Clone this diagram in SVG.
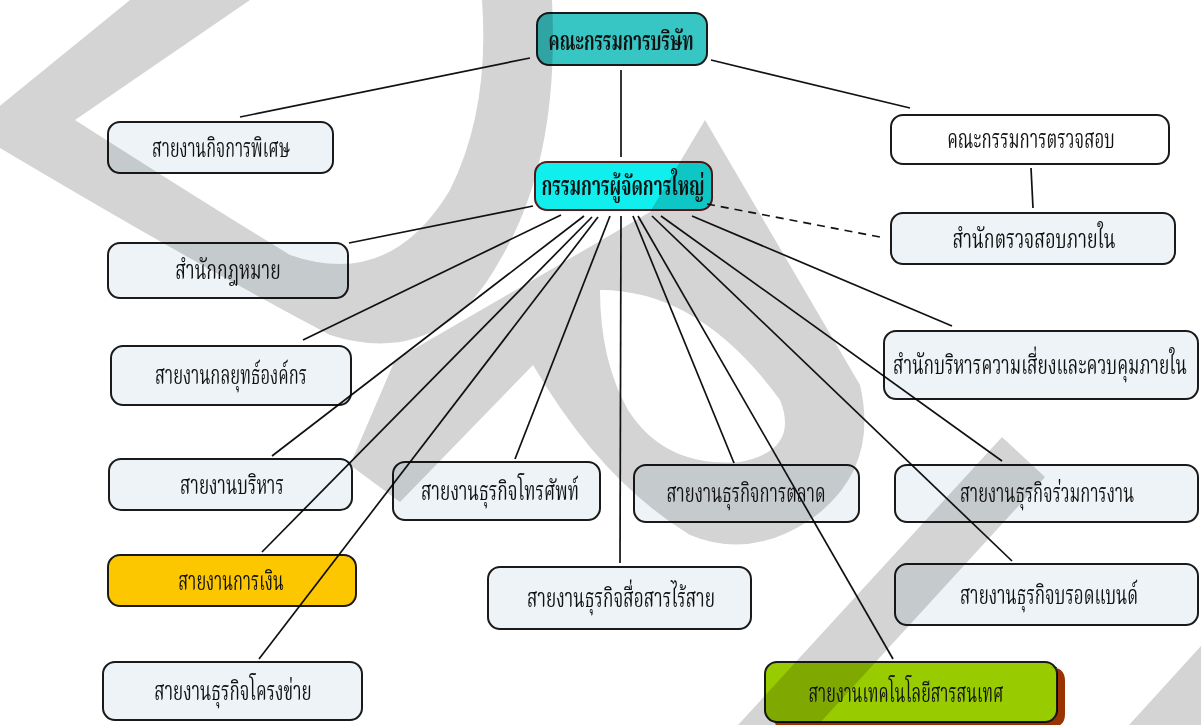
<svg xmlns="http://www.w3.org/2000/svg" width="1201" height="725" viewBox="0 0 1201 725">
<style>
.box{fill:#edf3f6;stroke:#1a1a1a;stroke-width:2}
rect{mix-blend-mode:multiply}
.t{font-family:"Angsana New","Norasi","Kinnari","Noto Serif Thai","Noto Sans Thai","Loma","Garuda",serif;font-size:26px;fill:#111;text-anchor:middle}
.b{font-weight:bold}
.c line{stroke:#111;stroke-width:1.7}
</style>
<g id="watermark" fill="#d4d4d4">
<path fill-rule="evenodd" d="M130,0 L-30,130 Q170,250 330,335 Q440,370 500,260 Q560,160 552,0 Z M250,0 L75,120 Q200,200 290,255 Q390,290 450,190 Q490,110 482,0 Z"/>
<path fill-rule="evenodd" d="M705,120 L860,385 Q880,470 810,520 Q750,560 690,535 Q600,480 533,365 L400,502 L350,465 L395,360 L650,212 Z M600,290 Q700,290 780,400 Q800,450 740,462 Q665,468 628,410 Q600,360 600,290 Z"/>
<path d="M738,725 L1002,437 L1045,477 L818,725 Z"/>
<path d="M1129,725 L1201,646 L1201,725 Z"/>
</g>
<g class="c" id="connectors">
<line x1="530" y1="58" x2="240" y2="117"/>
<line x1="711" y1="60" x2="910" y2="108"/>
<line x1="621" y1="70" x2="621" y2="157"/>
<line x1="1031" y1="168" x2="1033" y2="208"/>
<line x1="707" y1="204" x2="885" y2="238" stroke-dasharray="8,6"/>
<line x1="533" y1="206" x2="349" y2="243"/>
<line x1="561" y1="215" x2="303" y2="340"/>
<line x1="584" y1="216" x2="272" y2="456"/>
<line x1="592" y1="217" x2="262" y2="552"/>
<line x1="598" y1="217" x2="259" y2="659"/>
<line x1="610" y1="216" x2="515" y2="459"/>
<line x1="621" y1="216" x2="620" y2="563"/>
<line x1="633" y1="216" x2="734" y2="463"/>
<line x1="638" y1="216" x2="893" y2="659"/>
<line x1="652" y1="216" x2="1012" y2="561"/>
<line x1="661" y1="216" x2="1002" y2="461"/>
<line x1="692" y1="216" x2="952" y2="326"/>
</g>
<g id="n-board"><rect x="537" y="13" width="170" height="52" rx="12" fill="#38c6c4" stroke="#1a1a1a" stroke-width="2"/><text class="t b" transform="translate(621,50) scale(0.65,1)" textLength="223" lengthAdjust="spacingAndGlyphs">คณะกรรมการบริษัท</text></g>
<g id="n-special"><rect class="box" x="108" y="122" width="225" height="51" rx="12"/><text class="t" transform="translate(221,157) scale(0.65,1)" textLength="212" lengthAdjust="spacingAndGlyphs">สายงานกิจการพิเศษ</text></g>
<g id="n-auditcom"><rect x="891" y="115" width="278" height="49" rx="12" fill="#fff" stroke="#1a1a1a" stroke-width="2"/><text class="t" transform="translate(1031,148) scale(0.65,1)" textLength="258" lengthAdjust="spacingAndGlyphs">คณะกรรมการตรวจสอบ</text></g>
<g id="n-gm"><rect x="535" y="162" width="177" height="48" rx="12" fill="#10eeee" stroke="#5a1a1a" stroke-width="2"/><text class="t b" transform="translate(623,195) scale(0.65,1)" textLength="251" lengthAdjust="spacingAndGlyphs">กรรมการผู้จัดการใหญ่</text></g>
<g id="n-legal"><rect class="box" x="108" y="243" width="240" height="55" rx="12"/><text class="t" transform="translate(228,279) scale(0.65,1)" textLength="162" lengthAdjust="spacingAndGlyphs">สำนักกฎหมาย</text></g>
<g id="n-internal"><rect class="box" x="891" y="213" width="284" height="51" rx="12"/><text class="t" transform="translate(1034,248) scale(0.65,1)" textLength="251" lengthAdjust="spacingAndGlyphs">สำนักตรวจสอบภายใน</text></g>
<g id="n-strategy"><rect class="box" x="111" y="346" width="240" height="59" rx="12"/><text class="t" transform="translate(231,384) scale(0.65,1)" textLength="234" lengthAdjust="spacingAndGlyphs">สายงานกลยุทธ์องค์กร</text></g>
<g id="n-risk"><rect class="box" x="884" y="331" width="314" height="68" rx="12"/><text class="t" transform="translate(1040,374) scale(0.65,1)" textLength="452" lengthAdjust="spacingAndGlyphs">สำนักบริหารความเสี่ยงและควบคุมภายใน</text></g>
<g id="n-admin"><rect class="box" x="109" y="459" width="243" height="51" rx="12"/><text class="t" transform="translate(232,494) scale(0.65,1)" textLength="160" lengthAdjust="spacingAndGlyphs">สายงานบริหาร</text></g>
<g id="n-phone"><rect class="box" x="393" y="462" width="207" height="58" rx="12"/><text class="t" transform="translate(500,500) scale(0.65,1)" textLength="243" lengthAdjust="spacingAndGlyphs">สายงานธุรกิจโทรศัพท์</text></g>
<g id="n-marketing"><rect class="box" x="634" y="465" width="225" height="57" rx="12"/><text class="t" transform="translate(746,502) scale(0.65,1)" textLength="245" lengthAdjust="spacingAndGlyphs">สายงานธุรกิจการตลาด</text></g>
<g id="n-joint"><rect class="box" x="895" y="465" width="303" height="57" rx="12"/><text class="t" transform="translate(1047,502) scale(0.65,1)" textLength="268" lengthAdjust="spacingAndGlyphs">สายงานธุรกิจร่วมการงาน</text></g>
<g id="n-finance"><rect x="108" y="555" width="248" height="51" rx="12" fill="#fdc700" stroke="#1a1a1a" stroke-width="2"/><text class="t" transform="translate(231,590) scale(0.65,1)" textLength="162" lengthAdjust="spacingAndGlyphs">สายงานการเงิน</text></g>
<g id="n-wireless"><rect class="box" x="488" y="567" width="263" height="62" rx="12"/><text class="t" transform="translate(621,607) scale(0.65,1)" textLength="289" lengthAdjust="spacingAndGlyphs">สายงานธุรกิจสื่อสารไร้สาย</text></g>
<g id="n-broadband"><rect class="box" x="895" y="564" width="303" height="61" rx="12"/><text class="t" transform="translate(1049,604) scale(0.65,1)" textLength="274" lengthAdjust="spacingAndGlyphs">สายงานธุรกิจบรอดแบนด์</text></g>
<g id="n-network"><rect class="box" x="103" y="662" width="259" height="58" rx="12"/><text class="t" transform="translate(233,700) scale(0.65,1)" textLength="242" lengthAdjust="spacingAndGlyphs">สายงานธุรกิจโครงข่าย</text></g>
<g id="n-it"><path fill="#9a3300" d="M1050,667 Q1065,667 1065,681 L1065,714 Q1065,727 1052,727 L782,727 Q775,727 775,722 L1045,722 Q1057,722 1057,710 L1057,667 Z"/><rect x="765" y="662" width="292" height="60" rx="12" fill="#99cc00" stroke="#1a1a1a" stroke-width="2"/><text class="t" transform="translate(906,702) scale(0.65,1)" textLength="300" lengthAdjust="spacingAndGlyphs">สายงานเทคโนโลยีสารสนเทศ</text></g>
</svg>
